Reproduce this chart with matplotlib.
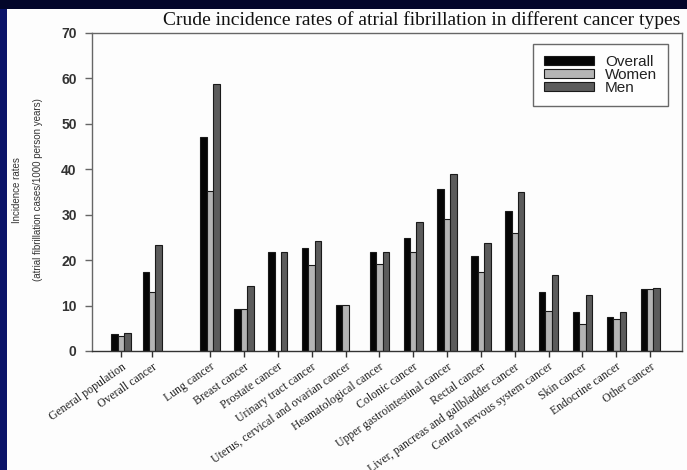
import numpy as np
import matplotlib
matplotlib.use("Agg")
import matplotlib.pyplot as plt
from matplotlib.patches import Rectangle

categories = ["General population", "Overall cancer", "Lung cancer", "Breast cancer",
              "Prostate cancer", "Urinary tract cancer",
              "Uterus, cervical and ovarian cancer", "Heamatological cancer",
              "Colonic cancer", "Upper gastrointestinal cancer", "Rectal cancer",
              "Liver, pancreas and gallbladder cancer", "Central nervous system cancer",
              "Skin cancer", "Endocrine cancer", "Other cancer"]
overall = [3.7, 17.3, 47.0, 9.2, 21.8, 22.7, 10.1, 21.8, 24.9, 35.6, 21.0, 30.8, 13.0, 8.6, 7.5, 13.7]
women = [3.4, 12.9, 35.3, 9.2, np.nan, 18.9, 10.1, 19.1, 21.7, 29.0, 17.5, 25.9, 8.9, 6.0, 7.0, 13.6]
men = [3.9, 23.4, 58.7, 14.4, 21.8, 24.3, np.nan, 21.9, 28.4, 39.0, 23.8, 34.9, 16.8, 12.4, 8.5, 13.8]
series_names = ["Overall", "Women", "Men"]
yticks = [0, 10, 20, 30, 40, 50, 60, 70]

W, H = 687, 470
fig = plt.figure(figsize=(W / 100, H / 100), dpi=100, facecolor="#fdfdfd")

# navy frame strips (left and top)
fig.add_artist(Rectangle((0, 0), 7 / W, 1, transform=fig.transFigure,
                         facecolor="#0b1468", edgecolor="none", zorder=-5))
fig.add_artist(Rectangle((0, 1 - 9 / H), 1, 9 / H, transform=fig.transFigure,
                         facecolor="#03062a", edgecolor="none", zorder=-5))

ax = fig.add_axes([92 / W, 1 - 351 / H, (682 - 92) / W, (351 - 33) / H])
ax.set_facecolor("#fdfdfd")

pos = np.r_[[-2.63, -1.71], np.arange(len(categories) - 2)]
bw = 0.19
colors = ["#050505", "#b4b4b4", "#5c5c5c"]
for i, (vals, c, name) in enumerate(zip([overall, women, men], colors, series_names)):
    ax.bar(pos + (i - 1) * bw, vals, width=bw, color=c, edgecolor="#1a1a1a",
           linewidth=0.8, label=name)

ax.set_xlim(-3.49, 13.94)
ax.set_ylim(0, 70)
ax.set_yticks(yticks)
ax.set_yticklabels([str(t) for t in yticks], fontsize=10, fontweight="bold",
                   color="#333333", family="Liberation Sans")
ax.set_xticks(pos)
ax.set_xticklabels(categories, rotation=35, ha="right", rotation_mode="anchor",
                   fontsize=8.5, family="Liberation Serif", color="#222222")
ax.tick_params(axis="y", length=5, width=1, color="#666666", pad=6)
ax.tick_params(axis="x", length=4, width=1, color="#333333", pad=3)
for s in ax.spines.values():
    s.set_color("#666666")
    s.set_linewidth(1.0)
ax.spines["bottom"].set_color("#333333")

leg = ax.legend(loc="upper right", bbox_to_anchor=(668 / W, 1 - 44 / H),
                bbox_transform=fig.transFigure, frameon=True, fancybox=False,
                prop={"family": "Liberation Sans", "size": 11},
                handlelength=3.3, handleheight=0.55, labelspacing=-0.05,
                borderpad=0.7, handletextpad=0.7, borderaxespad=0)
leg.get_frame().set_edgecolor("#444444")
leg.get_frame().set_linewidth(1.0)
for t in leg.get_texts():
    t.set_color("#222222")

fig.text(680 / W, 1 - 20 / H,
         "Crude incidence rates of atrial fibrillation in different cancer types",
         ha="right", va="center", fontsize=14, family="Liberation Serif", color="#111111")

fig.text(17 / W, 1 - 190 / H, "Incidence rates", rotation=90, ha="center", va="center",
         fontsize=7, family="Liberation Sans", color="#333333")
fig.text(38 / W, 1 - 190 / H, "(atrial fibrillation cases/1000 person years)", rotation=90,
         ha="center", va="center", fontsize=7, family="Liberation Sans", color="#333333")

fig.savefig("out.png", dpi=100, facecolor=fig.get_facecolor())
